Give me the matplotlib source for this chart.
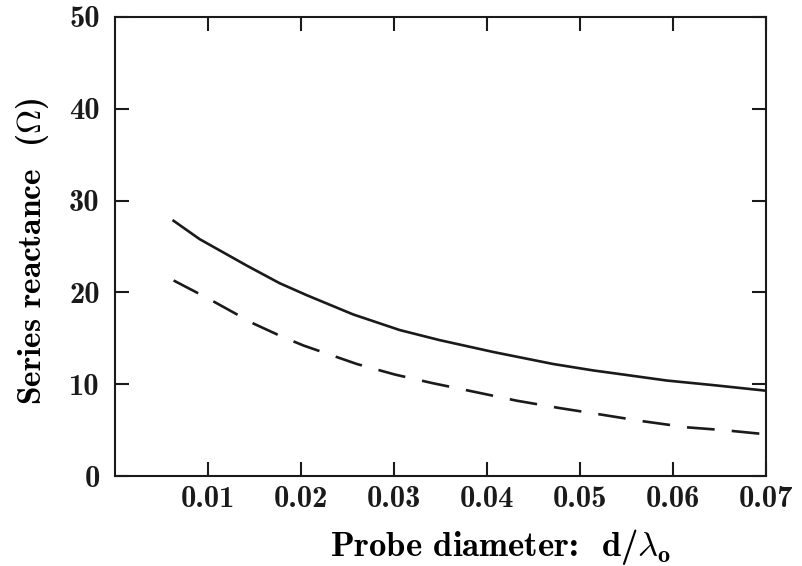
import matplotlib
matplotlib.use('Agg')
import matplotlib.pyplot as plt

plt.rcParams['mathtext.fontset'] = 'cm'
plt.rcParams['axes.unicode_minus'] = False

# valores
d_solida = [0.0063, 0.0091, 0.0142, 0.0177, 0.0206, 0.0256, 0.0306, 0.0349,
            0.0407, 0.0471, 0.0514, 0.0543, 0.0593, 0.0643, 0.0699]
x_solida = [27.8, 25.8, 22.9, 21.0, 19.7, 17.6, 15.9, 14.8,
            13.5, 12.2, 11.5, 11.1, 10.4, 9.9, 9.3]

d_trazos = [0.0063, 0.0099, 0.0149, 0.0179, 0.0203, 0.0260, 0.0301, 0.0342,
            0.0366, 0.0432, 0.0478, 0.0522, 0.0565, 0.0615, 0.0654, 0.0699]
x_trazos = [21.3, 19.4, 16.6, 15.2, 14.2, 12.2, 11.05, 10.1,
            9.6, 8.2, 7.4, 6.7, 6.0, 5.3, 5.0, 4.55]

xticks = [0.01, 0.02, 0.03, 0.04, 0.05, 0.06, 0.07]
yticks = [0, 10, 20, 30, 40, 50]

fuente = 'cmb10'
negro = '#1a1a1a'

fig = plt.figure(figsize=(8.03, 5.66), dpi=100)
ax = fig.add_axes([0.1432, 0.159, 0.811, 0.811])

ax.plot(d_solida, x_solida, color=negro, linewidth=1.9)
ax.plot(d_trazos, x_trazos, color=negro, linewidth=1.9, dashes=(10.5, 6.5))

ax.set_xlim(0, 0.07)
ax.set_ylim(0, 50)
ax.set_xticks(xticks)
ax.set_yticks(yticks)
ax.set_xticklabels([f'{v:.2f}' for v in xticks], fontfamily=fuente,
                   fontsize=22)
ax.set_yticklabels([str(v) for v in yticks], fontfamily=fuente, fontsize=22)
ax.tick_params(direction='in', length=10, width=1.5, top=True, right=True,
               colors=negro)
ax.tick_params(axis='x', pad=7)
ax.tick_params(axis='y', pad=11)
for s in ax.spines.values():
    s.set_linewidth(1.5)
    s.set_color(negro)

fig.text(0.624, 0.034, r'Probe diameter:  d/$\mathbf{\lambda_o}$',
         fontfamily=fuente, fontsize=25, ha='center', va='center')
fig.text(0.04, 0.555, r'Series reactance  ($\mathbf{\Omega}$)',
         fontfamily=fuente, fontsize=24, ha='center', va='center',
         rotation=90)

plt.savefig('out.png', dpi=100)
plt.close(fig)
